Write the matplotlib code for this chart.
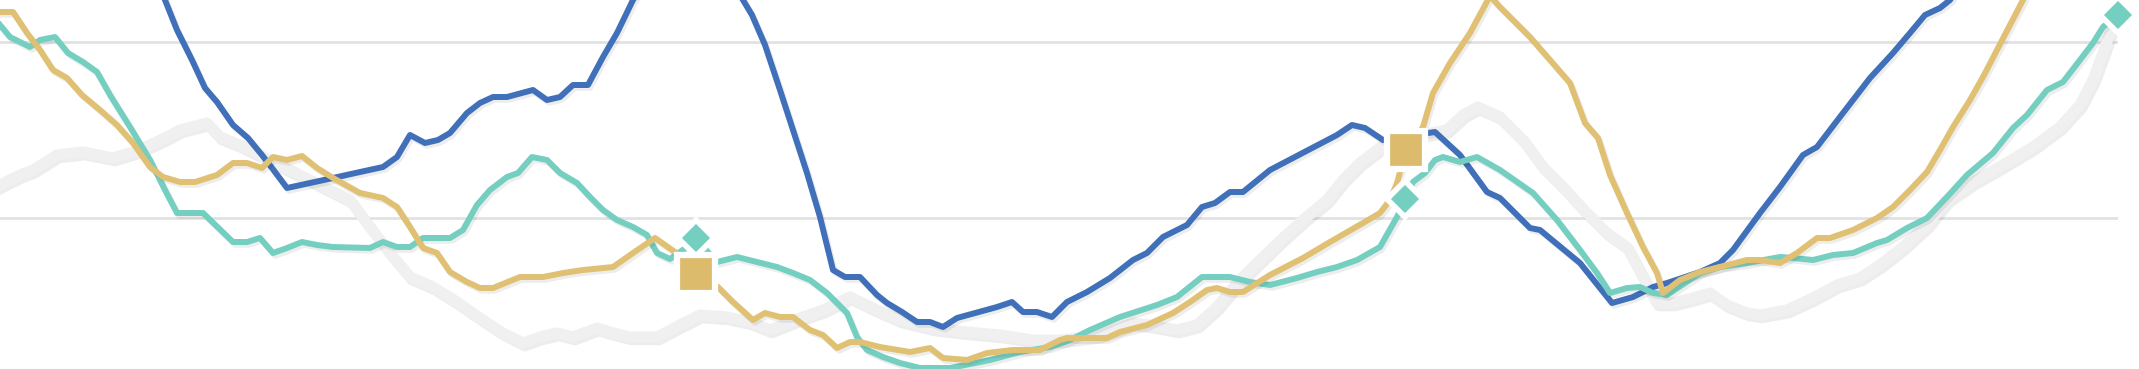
import matplotlib
matplotlib.use("Agg")
import matplotlib.pyplot as plt
import matplotlib.patheffects as pe

# values (y counted downward from the top edge)
blue_x = [150, 165, 177, 192, 205, 217, 233, 248, 262, 272, 287, 333, 360, 383, 397, 410, 425, 438, 450, 467,
          480, 493, 507, 533, 547, 560, 573, 588, 603, 617, 633, 690, 743, 752, 765, 780, 793, 807, 820, 833,
          845, 860, 877, 887, 902, 917, 930, 943, 957, 997, 1012, 1023, 1037, 1052, 1067, 1087, 1110, 1133, 1147, 1163,
          1187, 1202, 1215, 1230, 1243, 1270, 1337, 1352, 1365, 1383, 1405, 1428, 1435, 1460, 1487, 1500, 1530, 1540, 1580, 1612,
          1633, 1653, 1667, 1700, 1720, 1733, 1760, 1780, 1803, 1817, 1843, 1870, 1893, 1910, 1925, 1940, 1950, 1990]
blue_y = [-40, 0, 30, 60, 88, 102, 125, 138, 155, 168, 188, 178, 172, 167, 157, 135, 143, 140, 133, 113,
          103, 97, 97, 90, 100, 97, 85, 85, 57, 33, 0, -90, 0, 15, 45, 90, 130, 173, 217, 270,
          277, 277, 295, 303, 312, 322, 322, 327, 318, 307, 302, 312, 312, 317, 302, 292, 278, 260, 253, 237,
          225, 207, 203, 192, 192, 170, 135, 125, 128, 140, 138, 133, 132, 155, 192, 198, 228, 230, 263, 303,
          297, 287, 283, 272, 263, 250, 213, 187, 155, 147, 113, 78, 53, 33, 15, 8, 0, -60]

teal_x = [0, 10, 30, 40, 55, 68, 83, 97, 110, 130, 150, 165, 177, 203, 233, 247, 260, 273, 287, 302,
          317, 333, 370, 383, 397, 410, 423, 450, 463, 477, 490, 507, 518, 532, 547, 560, 577, 590, 603, 617,
          633, 647, 657, 670, 697, 717, 737, 777, 793, 810, 827, 847, 857, 867, 883, 900, 920, 950, 990, 1020,
          1050, 1070, 1090, 1120, 1157, 1177, 1202, 1230, 1250, 1270, 1297, 1317, 1337, 1357, 1380, 1397, 1405, 1413, 1425, 1435,
          1443, 1460, 1477, 1500, 1533, 1557, 1580, 1597, 1610, 1627, 1640, 1653, 1667, 1700, 1720, 1747, 1780, 1793, 1813, 1833,
          1853, 1877, 1887, 1907, 1927, 1947, 1967, 1993, 2013, 2027, 2047, 2063, 2080, 2093, 2103, 2118]
teal_y = [25, 37, 47, 40, 37, 53, 62, 72, 95, 127, 160, 190, 213, 213, 242, 242, 238, 253, 248, 242,
          245, 247, 248, 242, 247, 247, 238, 238, 230, 205, 190, 177, 173, 157, 160, 173, 183, 197, 210, 220,
          227, 235, 253, 259, 240, 262, 257, 267, 273, 280, 293, 313, 337, 350, 357, 363, 368, 368, 360, 352,
          347, 340, 330, 317, 305, 297, 277, 277, 282, 285, 278, 272, 267, 260, 247, 217, 200, 182, 173, 160,
          157, 162, 157, 170, 193, 220, 250, 273, 293, 288, 287, 293, 295, 273, 267, 263, 257, 258, 260, 255,
          253, 243, 240, 228, 218, 197, 175, 153, 128, 115, 90, 82, 60, 43, 27, 15]

gold_x = [0, 13, 27, 40, 53, 67, 82, 100, 117, 133, 150, 163, 180, 195, 217, 233, 247, 262, 273, 287,
          302, 317, 333, 360, 383, 397, 410, 423, 437, 450, 467, 480, 493, 520, 543, 563, 583, 613, 633, 655,
          675, 696, 718, 733, 753, 765, 780, 793, 810, 823, 837, 850, 860, 880, 910, 930, 943, 967, 987, 1013,
          1040, 1060, 1067, 1107, 1120, 1147, 1173, 1190, 1207, 1217, 1230, 1243, 1270, 1303, 1330, 1363, 1380, 1390, 1397, 1406,
          1423, 1433, 1450, 1470, 1490, 1500, 1530, 1550, 1570, 1585, 1598, 1610, 1627, 1643, 1657, 1663, 1680, 1700, 1720, 1747,
          1760, 1780, 1797, 1817, 1830, 1853, 1877, 1893, 1910, 1927, 1940, 1953, 1970, 1983, 1997, 2010, 2023, 2040]
gold_y = [12, 12, 33, 50, 70, 78, 95, 110, 125, 143, 167, 177, 182, 182, 175, 163, 163, 168, 157, 160,
          156, 168, 178, 193, 198, 207, 227, 248, 253, 272, 282, 288, 288, 277, 277, 273, 270, 267, 253, 238,
          252, 274, 287, 302, 320, 313, 317, 317, 330, 335, 348, 342, 342, 347, 352, 348, 358, 360, 353, 350,
          350, 340, 338, 338, 332, 325, 313, 302, 290, 288, 292, 292, 275, 258, 242, 223, 213, 200, 183, 150,
          127, 93, 63, 33, -4, 7, 37, 60, 83, 123, 138, 175, 213, 247, 273, 293, 280, 272, 267, 260,
          260, 263, 253, 238, 238, 230, 218, 207, 190, 172, 150, 127, 100, 77, 50, 25, 0, -40]

gray_x = [0, 20, 33, 57, 83, 113, 133, 150, 167, 180, 207, 220, 240, 260, 273, 300, 330, 350, 370, 390,
          410, 433, 457, 483, 503, 523, 540, 557, 573, 597, 610, 630, 657, 680, 700, 727, 750, 770, 800, 823,
          850, 877, 900, 933, 967, 1000, 1033, 1060, 1100, 1133, 1150, 1177, 1197, 1217, 1237, 1257, 1283, 1303, 1327, 1343,
          1360, 1377, 1390, 1420, 1447, 1463, 1478, 1500, 1523, 1543, 1563, 1587, 1607, 1627, 1643, 1657, 1673, 1693, 1710, 1727,
          1747, 1760, 1787, 1813, 1837, 1860, 1880, 1903, 1927, 1947, 1973, 2003, 2033, 2060, 2080, 2093, 2103, 2110]
gray_y = [185, 175, 170, 155, 152, 158, 152, 145, 137, 130, 123, 137, 145, 155, 162, 175, 190, 200, 227, 253,
          277, 287, 302, 320, 333, 343, 337, 333, 337, 328, 332, 337, 337, 325, 315, 317, 322, 330, 318, 310,
          297, 310, 320, 328, 332, 335, 340, 340, 335, 323, 325, 330, 325, 307, 283, 263, 238, 220, 200, 180,
          163, 150, 140, 135, 130, 115, 107, 117, 140, 167, 187, 213, 233, 247, 277, 303, 303, 298, 293, 305,
          313, 315, 310, 298, 285, 278, 265, 247, 225, 200, 182, 165, 147, 127, 105, 80, 53, 33]

# highlighted points
diamond_x = [696, 1405, 2118]
diamond_y = [238, 199, 15]
square_x = [696, 1406]
square_y = [274, 150]

grid_y = [42, 218]

BLUE = "#3f70b9"
TEAL = "#74cfc1"
GOLD = "#e0c073"
GRAY = "#f0f0f0"

shadow = [pe.SimpleLineShadow(offset=(1.5, -2), shadow_color="black", alpha=0.07), pe.Normal()]

fig = plt.figure(figsize=(21.39, 3.69), dpi=100)
ax = fig.add_axes([0, 0, 2118 / 2139, 1])
ax.set_xlim(0, 2118)
ax.set_ylim(369, 0)
ax.axis("off")

for g in grid_y:
    ax.axhline(g, color="#e2e2e2", lw=2, zorder=0)

ax.plot(gray_x, gray_y, color=GRAY, lw=8, solid_joinstyle="round", path_effects=shadow, zorder=1)
ax.plot(blue_x, blue_y, color=BLUE, lw=4.3, solid_joinstyle="round", path_effects=shadow, zorder=2)
ax.plot(teal_x, teal_y, color=TEAL, lw=4.3, solid_joinstyle="round", path_effects=shadow, zorder=3)
ax.plot(gold_x, gold_y, color=GOLD, lw=4.3, solid_joinstyle="round", path_effects=shadow, zorder=4)

ax.plot(diamond_x, diamond_y, ls="none", marker="D", ms=18, mfc=TEAL, mec="white", mew=4,
        zorder=5, clip_on=False)
ax.plot(square_x, square_y, ls="none", marker="s", ms=28, mfc="#dcbb6c", mec="white", mew=4.5,
        zorder=6, clip_on=False)

fig.savefig("out.png", dpi=100)
